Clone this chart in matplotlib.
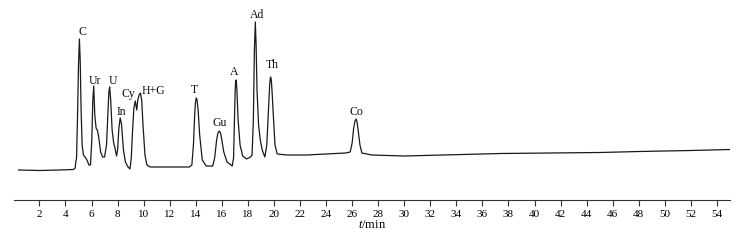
import matplotlib
matplotlib.use('Agg')
import matplotlib.pyplot as plt

plt.rcParams['font.family'] = ['Liberation Serif', 'DejaVu Serif']
plt.rcParams['mathtext.fontset'] = 'custom'
plt.rcParams['mathtext.it'] = 'Liberation Serif:italic'
plt.rcParams['mathtext.rm'] = 'Liberation Serif'

# chromatogram trace (time in min, detector signal in a.u.)
time_min = [0.4, 2.0, 3.5, 4.6, 4.75, 4.78, 4.85, 4.92, 5.0, 5.07, 5.13, 5.2, 5.28,
            5.38, 5.5, 5.65, 5.8, 5.92, 6.02, 6.1, 6.17, 6.25, 6.35, 6.47, 6.58,
            6.7, 6.85, 7.0, 7.15, 7.25, 7.33, 7.39, 7.47, 7.58, 7.7, 7.8, 7.92,
            8.0, 8.1, 8.2, 8.3, 8.45, 8.6, 8.8, 8.95, 9.05, 9.15, 9.25, 9.36,
            9.47, 9.55, 9.65, 9.75, 9.85, 9.95, 10.1, 10.25, 10.5, 12.0, 13.5,
            13.7, 13.82, 13.92, 13.98, 14.04, 14.1, 14.18, 14.3, 14.5, 14.8, 15.3,
            15.45, 15.6, 15.7, 15.8, 15.9, 16.0, 16.15, 16.4, 16.8, 16.9, 16.97,
            17.02, 17.06, 17.1, 17.15, 17.25, 17.4, 17.6, 17.9, 18.2, 18.32,
            18.42, 18.5, 18.57, 18.63, 18.7, 18.82, 18.95, 19.1, 19.3, 19.45,
            19.58, 19.68, 19.74, 19.8, 19.87, 19.95, 20.08, 20.25, 21.0, 22.5,
            24.0, 25.5, 25.85, 26.0, 26.12, 26.22, 26.3, 26.38, 26.48, 26.6,
            26.75, 27.5, 30.0, 33.0, 37.4, 41.0, 45.0, 48.0, 50.2, 52.0, 55.0]
signal = [30, 29.5, 30, 30.5, 32, 37, 42, 80, 135, 161, 140, 90, 55,
          45, 43, 40, 35, 35, 60, 100, 114, 85, 72, 69, 60,
          48, 43, 43, 55, 85, 108, 113, 100, 70, 57, 52, 44,
          50, 72, 82, 76, 50, 38, 33, 31, 42, 70, 92, 99,
          90, 100, 105, 107, 100, 75, 45, 35, 33, 33, 33,
          35, 55, 86, 98, 102, 100, 90, 65, 40, 34, 34,
          42, 60, 67, 69, 67, 60, 48, 38, 34, 42, 80,
          108, 119, 120, 112, 80, 55, 44, 41, 43, 45,
          80, 150, 178, 155, 110, 75, 60, 50, 43, 55,
          90, 117, 123, 120, 105, 85, 55, 46, 45, 45,
          46, 47, 48, 57, 72, 79, 81, 78, 68, 55,
          47, 45, 44, 45, 46.5, 47, 47.5, 48.5, 49, 49.5, 50.5]

peak_names = ['C', 'Ur', 'U', 'In', 'Cy', 'H+G', 'T', 'Gu', 'A', 'Ad', 'Th', 'Co']
label_t = [5.32, 6.24, 7.65, 8.27, 8.85, 10.77, 13.89, 15.83, 16.96, 18.7, 19.85, 26.31]
label_y = [168, 119, 119, 88, 106, 109, 110, 77, 128, 185, 135, 88]

xticks = list(range(2, 55, 2))

fig = plt.figure(figsize=(7.45, 2.42), dpi=100)
ax = fig.add_axes([14 / 745, 42 / 242, 716 / 745, 200 / 242])

ax.plot(time_min, signal, color='#1a1a1a', lw=0.9)

for name, tx, ty in zip(peak_names, label_t, label_y):
    ax.text(tx, ty, name, ha='center', va='center', fontsize=8.5, color='#111111')

ax.set_xlim(0.05, 55)
ax.set_ylim(0, 200)
ax.set_xticks(xticks)
ax.set_yticks([])
for s in ['left', 'right', 'top']:
    ax.spines[s].set_visible(False)
ax.spines['bottom'].set_linewidth(0.8)
ax.spines['bottom'].set_color('#333333')
ax.tick_params(axis='x', direction='out', length=4, width=0.8, color='#333333',
               labelsize=8, pad=3)
ax.set_xlabel(r'$t$/min', fontsize=9, labelpad=0)

fig.savefig('out.png', dpi=100)
